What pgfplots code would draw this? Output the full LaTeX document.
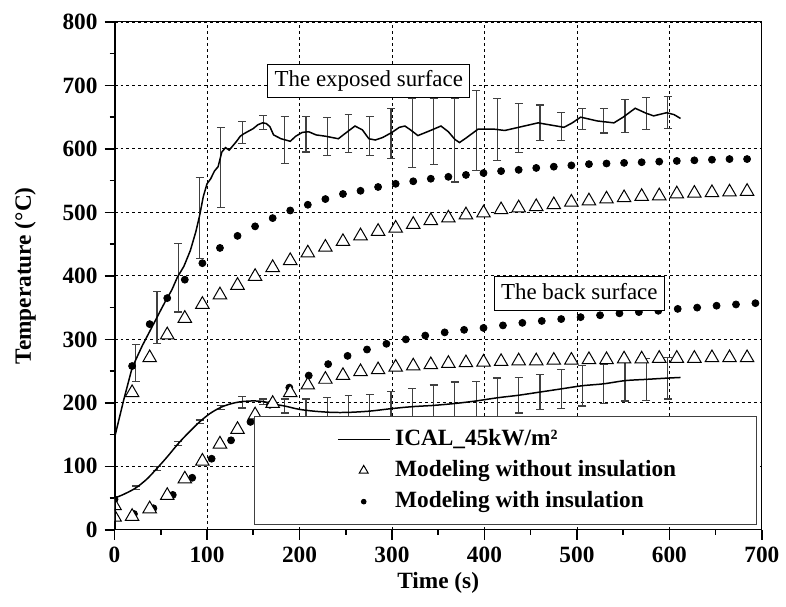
\documentclass[border=0pt]{standalone}
\usepackage{fontspec}
\setmainfont{Liberation Serif}
\usepackage{pgfplots}
\pgfplotsset{compat=1.18}
\usepackage{pgfplotstable}

\pgfplotstableread{
x y
0 145
5 175
10 205
19 255
23 268
30 290
40 318
46 335
55 360
62 378
68 398
75 415
82 440
88 470
92 495
96 525
100 545
104 553
108 565
112 572
116 595
120 602
124 598
128 605
132 612
136 620
140 624
145 628
150 632
155 638
160 641
164 640
168 635
172 622
180 616
190 612
196 620
203 626
210 627
218 622
228 620
242 616
250 625
260 636
268 630
275 616
282 614
290 618
300 626
308 634
314 636
320 630
328 621
340 628
353 636
361 627
368 615
373 610
380 617
393 631
411 631
422 629
440 635
458 641
470 638
486 634
495 641
504 650
513 647
522 644
540 641
550 650
563 664
575 656
583 652
597 657
605 654
612 648
}\exposedline

\pgfplotstableread{
x y
0 50
10 56
23 66
35 80
46 97
57 115
69 136
80 153
92 170
103 183
115 193
127 199
138 202
150 203
161 202
172 198
184 195
199 190
215 187
235 185
253 185
276 187
300 191
322 194
345 196
368 199
391 203
414 208
437 212
460 217
483 222
506 227
529 230
552 235
575 237
598 239
612 240
}\backline

\pgfplotstableread{
x y e
23 263 29
46 334 41
69 397 54
92 491 64
115 571 63
138 626 17
161 642 11
184 614 37
207 623 28
230 619 30
253 624 30
276 620 31
299 624 39
322 625 54
345 628 52
368 614 66
391 629 63
414 631 49
437 633 39
460 641 28
483 635 22
506 647 17
529 644 19
552 652 26
575 656 25
598 657 25
}\exposederr

\pgfplotstableread{
x y e
23 66 3
46 97 3
69 136 3
92 170 3
115 193 3
138 201 9
161 202 4
184 195 11
207 190 16
230 186 22
253 186 25
276 188 25
299 191 27
322 194 29
345 196 32
368 199 34
391 203 31
414 208 31
437 212 28
460 217 28
483 222 31
506 227 32
529 230 31
552 235 32
575 237 33
598 239 33
}\backerr

\pgfplotstableread{
x y
0 48
19 258
38 324
57 365
76 394
95 420
114 444
133 463
152 478
171 491
190 503
209 512
228 521
247 529
266 534
285 540
304 545
323 549
342 553
361 556
380 559
399 562
418 565
437 567
456 570
475 572
494 574
513 576
532 577
551 578
570 579
589 580
608 581
627 582
646 583
665 584
684 584
}\exposeddots

\pgfplotstableread{
x y
21 25
42 34
63 55
84 82
105 112
126 141
147 170
168 197
189 224
210 243
231 261
252 274
273 284
294 293
315 300
336 306
357 311
378 315
399 318
420 322
441 326
462 329
483 332
504 335
525 338
546 341
567 343
588 345
609 348
630 350
651 353
672 355
693 357
}\backdots

\pgfplotstableread{
x y
0 38
19 216
38 271
57 307
76 333
95 355
114 370
133 385
152 399
171 413
190 424
209 436
228 445
247 454
266 463
285 470
304 475
323 481
342 487
361 491
380 496
399 499
418 504
437 507
456 509
475 512
494 516
513 518
532 521
551 523
570 525
589 526
608 529
627 530
646 531
665 532
684 533
}\exposedtri

\pgfplotstableread{
x y
0 20
19 21
38 33
57 54
76 80
95 108
114 135
133 158
152 181
171 199
190 216
209 228
228 237
247 243
266 249
285 252
304 256
323 258
342 260
361 262
380 263
399 264
418 265
437 266
456 266
475 267
494 267
513 268
532 268
551 269
570 269
589 270
608 270
627 270
646 271
665 271
684 271
}\backtri

\begin{document}
\begin{tikzpicture}
\begin{axis}[
  scale only axis,
  width=325pt, height=255pt,
  xmin=0, xmax=700, ymin=0, ymax=800,
  xtick={0,100,...,700}, ytick={0,100,...,800},
  minor x tick num=1, minor y tick num=1,
  tick pos=left, tick align=outside,
  major tick length=5pt, minor tick length=2.5pt,
  every tick/.style={black, line width=0.8pt},
  grid=major,
  major grid style={black, line width=0.4pt, dash pattern=on 1.5pt off 1.5pt},
  axis line style={line width=0.5pt},
  clip marker paths=true,
  font=\fontsize{11.5}{13}\selectfont,
  ticklabel style={font=\fontsize{11.7}{13}\selectfont\bfseries},
  /pgf/number format/assume math mode=true,
  xlabel={\bfseries Time (s)},
  ylabel={\bfseries Temperature (°C)},
  xlabel style={at={(axis description cs:0.5,-0.104)}, anchor=center, font=\fontsize{11.7}{13}\selectfont},
  ylabel style={at={(axis description cs:-0.138,0.5)}, anchor=center, font=\fontsize{11.7}{13}\selectfont},
  legend style={at={(axis description cs:0.2154,0.0092)}, anchor=south west,
    draw=black!75, line width=0.6pt, fill=white,
    inner xsep=4pt, inner ysep=5pt, row sep=2.6pt,
    font=\fontsize{11.7}{13}\selectfont\bfseries,
    nodes={inner sep=1pt, text height=8.5pt, text depth=2.5pt}},
  legend cell align=left,
]
\addlegendimage{legend image code/.code={\path (-37.5pt,0pt) (27.5pt,0pt); \draw[black, line width=0.75pt] (0pt,0pt) -- (26pt,0pt);}}
\addlegendentry{ICAL\_45kW/m²}
\addlegendimage{legend image code/.code={\path (-37.5pt,0pt) (27.5pt,0pt); \path[draw=black, fill=white, line width=0.5pt] plot[only marks, mark=triangle*, mark size=2.6pt] coordinates {(13pt,0pt)};}}
\addlegendentry{Modeling without insulation\hspace*{35.5pt}}
\addlegendimage{legend image code/.code={\path (-37.5pt,0pt) (27.5pt,0pt); \path[draw=black, fill=black] plot[only marks, mark=*, mark size=1.1pt] coordinates {(13pt,0pt)};}}
\addlegendentry{Modeling with insulation}

% error bars
\addplot[forget plot, draw=none, mark=none,
  error bars/.cd, y dir=both, y explicit,
  error bar style={draw=black!75, line width=0.6pt},
  error mark options={rotate=90, mark size=2pt, draw=black!75, line width=0.6pt}]
  table[x=x, y=y, y error=e] {\exposederr};
\addplot[forget plot, draw=none, mark=none,
  error bars/.cd, y dir=both, y explicit,
  error bar style={draw=black!75, line width=0.6pt},
  error mark options={rotate=90, mark size=2pt, draw=black!75, line width=0.6pt}]
  table[x=x, y=y, y error=e] {\backerr};

% measured lines
\addplot[forget plot, black, line width=0.75pt, mark=none] table[x=x, y=y] {\exposedline};
\addplot[forget plot, black, line width=0.75pt, mark=none, smooth] table[x=x, y=y] {\backline};

% modeling with insulation (dots)
\addplot[forget plot, only marks, mark=*, mark size=1.75pt, black] table[x=x, y=y] {\exposeddots};
\addplot[forget plot, only marks, mark=*, mark size=1.75pt, black] table[x=x, y=y] {\backdots};

% modeling without insulation (triangles)
\addplot[forget plot, only marks, mark=triangle*, mark size=3.9pt, mark options={draw=black, fill=white, line width=0.5pt}] table[x=x, y=y] {\exposedtri};
\addplot[forget plot, only marks, mark=triangle*, mark size=3.9pt, mark options={draw=black, fill=white, line width=0.5pt}] table[x=x, y=y] {\backtri};

\node[draw=black, line width=0.5pt, fill=white, inner xsep=3.5pt, inner ysep=3pt, text height=8.5pt, text depth=2.5pt, font=\fontsize{11.5}{13}\selectfont] at (axis cs:275,707) {The exposed surface};
\node[draw=black, line width=0.5pt, fill=white, inner xsep=3.5pt, inner ysep=3pt, text height=8.5pt, text depth=2.5pt, font=\fontsize{11.5}{13}\selectfont] at (axis cs:502.6,372) {The back surface};

\draw[black, line width=1.1pt] (rel axis cs:0,1) -- (rel axis cs:0,0) -- (rel axis cs:1,0);
\end{axis}
\path (current axis.south west) ++(-57.5pt,-38.5pt) coordinate (bbsw);
\path (current axis.north east) ++(10.5pt,11pt) coordinate (bbne);
\path (bbsw) rectangle (bbne);
\end{tikzpicture}
\end{document}
